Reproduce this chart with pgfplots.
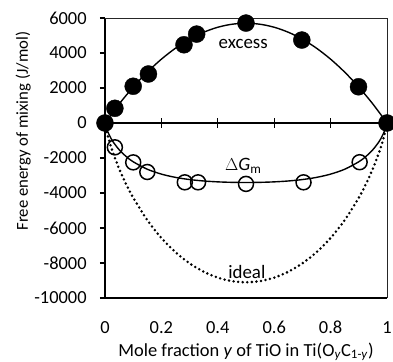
\documentclass[border=0pt]{standalone}
\usepackage{pgfplots}
\pgfplotsset{compat=1.18}
\usepackage{fontspec}
\setmainfont{Carlito}
\begin{document}
\fontsize{18.5}{22}\selectfont
\begin{tikzpicture}
\begin{axis}[
  scale only axis, width=282bp, height=280bp,
  xmin=0, xmax=1, ymin=-10000, ymax=6000,
  axis x line*=bottom, axis y line*=left,
  axis line style={line width=1.4pt, -},
  xtick={0,0.2,0.4,0.6,0.8,1},
  xticklabels={0,0.2,0.4,0.6,0.8,1},
  x tick style={draw=none},
  ytick={-10000,-8000,...,6000},
  y tick style={line width=1.2pt, black},
  tick align=outside, major tick length=5bp,
  scaled y ticks=false,
  /pgf/number format/assume math mode=true,
  /pgf/number format/1000 sep={},
  tick label style={font=\fontsize{18.5}{22}\selectfont},
  yticklabel style={xshift=-7bp},
  xticklabel style={anchor=base, inner sep=0pt, yshift=-30bp},
  xlabel={Mole fraction \textit{y} of TiO in Ti(O\textsubscript{\textit{y}}C\textsubscript{1-\textit{y}})},
  ylabel={Free energy of mixing (J/mol)},
  xlabel style={font=\fontsize{18.5}{22}\selectfont, at={(axis description cs:0.5,0)}, anchor=base, inner sep=0pt, yshift=-58bp},
  ylabel style={font=\fontsize{16.8}{20}\selectfont, at={(axis description cs:-0.29,0.596)}, anchor=center},
  clip=false,
]
% thin frame top/right
\draw[line width=0.8pt, black!85] (rel axis cs:0,1) -- (rel axis cs:1,1) -- (rel axis cs:1,0);
% zero line
\addplot[black, line width=1.4pt] coordinates {(0,0) (1,0)};
\foreach \t in {0.2,0.4,0.6,0.8}{
  \edef\tmp{\noexpand\draw[line width=1.2pt] (axis cs:\t,-260) -- (axis cs:\t,260);}\tmp
}
% ideal
\addplot[black, line width=2.8pt, line cap=round, dash pattern=on 0pt off 4.6pt, smooth] coordinates {
(0,0) (0.005,-413) (0.01,-735) (0.02,-1287) (0.03,-1769) (0.05,-2606) (0.075,-3497)
(0.1,-4268) (0.15,-5549) (0.2,-6569) (0.25,-7383) (0.3,-8020) (0.35,-8500) (0.4,-8836)
(0.45,-9034) (0.5,-9100) (0.55,-9034) (0.6,-8836) (0.65,-8500) (0.7,-8020) (0.75,-7383)
(0.8,-6569) (0.85,-5549) (0.9,-4268) (0.925,-3497) (0.95,-2606) (0.97,-1769) (0.98,-1287)
(0.99,-735) (0.995,-413) (1,0)};
% excess curve
\addplot[black, line width=1.4pt, smooth] coordinates {
(0,0) (0.05,1083) (0.1,2052) (0.15,2907) (0.2,3648) (0.25,4275) (0.3,4788) (0.35,5187)
(0.4,5472) (0.45,5643) (0.5,5700) (0.55,5643) (0.6,5472) (0.65,5187) (0.7,4788) (0.75,4275)
(0.8,3648) (0.85,2907) (0.9,2052) (0.95,1083) (1,0)};
% Delta G curve
\addplot[black, line width=1.4pt, smooth] coordinates {
(0,0) (0.005,-300) (0.01,-509) (0.02,-840) (0.03,-1106) (0.05,-1523) (0.075,-1915)
(0.1,-2216) (0.15,-2642) (0.2,-2921) (0.25,-3108) (0.3,-3232) (0.35,-3313) (0.4,-3364)
(0.45,-3391) (0.5,-3400) (0.55,-3391) (0.6,-3364) (0.65,-3313) (0.7,-3232) (0.75,-3108)
(0.8,-2921) (0.85,-2642) (0.9,-2216) (0.925,-1915) (0.95,-1523) (0.97,-1106) (0.98,-840)
(0.99,-509) (0.995,-300) (1,0)};
% open circles
\addplot[only marks, mark=o, mark size=7.5bp, mark options={line width=1.5pt, fill=white}] coordinates {
(0.035,-1390) (0.1,-2250) (0.15,-2800) (0.283,-3390) (0.33,-3390) (0.5,-3480) (0.704,-3390) (0.903,-2240)};
% filled circles
\addplot[only marks, mark=*, mark size=8.5bp, black] coordinates {
(0,0) (0.035,840) (0.1,2100) (0.154,2800) (0.28,4470) (0.325,5080) (0.5,5710) (0.698,4740) (0.899,2070) (1,0)};
\node[font=\fontsize{19}{22}\selectfont, anchor=base, inner sep=0pt] at (axis cs:0.49,4270) {excess};
\node[font=\fontsize{19}{22}\selectfont, anchor=base, inner sep=0pt] at (axis cs:0.49,-2720) {$\Delta$\textit{G}\textsubscript{m}};
\node[font=\fontsize{19}{22}\selectfont, anchor=base, inner sep=0pt] at (axis cs:0.503,-8880) {ideal};
\end{axis}
\pgfresetboundingbox
\useasboundingbox ([xshift=-105bp,yshift=-64bp]current axis.south west) rectangle ([xshift=6bp,yshift=18bp]current axis.north east);
\end{tikzpicture}
\end{document}
